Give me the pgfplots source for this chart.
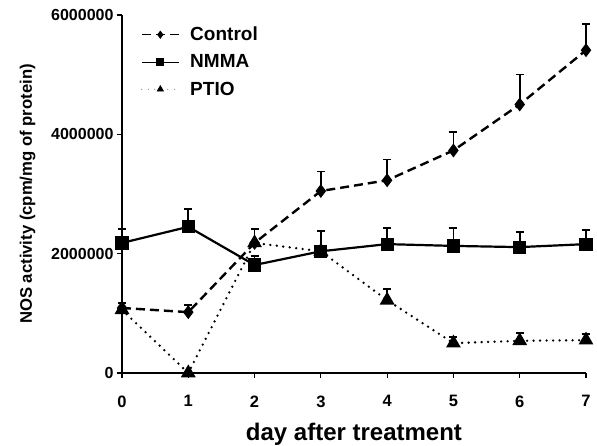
\documentclass[border=0pt]{standalone}
\usepackage{fontspec}
\setmainfont{Liberation Sans}
\usepackage{pgfplots}
\pgfplotsset{compat=1.18}
\usepackage{pgfplotstable}

\pgfplotstableread{
x y e
0 1090000 80000
1 1020000 120000
2 2180000 230000
3 3050000 330000
4 3230000 350000
5 3730000 310000
6 4500000 500000
7 5410000 440000
}\control
\pgfplotstableread{
x y e
0 2180000 230000
1 2450000 300000
2 1810000 150000
3 2040000 340000
4 2160000 270000
5 2130000 300000
6 2110000 250000
7 2160000 240000
}\nmma
\pgfplotstableread{
x y e
0 1060000 0
1 0 0
2 2180000 0
3 2040000 0
4 1220000 190000
5 500000 100000
6 540000 130000
7 550000 100000
}\ptio

\begin{document}
\begin{tikzpicture}
\begin{axis}[
  scale only axis,
  width=464pt, height=358pt,
  xmin=0, xmax=7, ymin=0, ymax=6000000,
  axis lines=left,
  axis line style={line width=1.6pt, -},
  clip=false,
  xtick={0,...,7},
  ytick={0,2000000,4000000,6000000},
  scaled ticks=false,
  yticklabel style={/pgf/number format/fixed, /pgf/number format/1000 sep={}, font=\fontsize{16}{18}\selectfont\bfseries},
  xticklabel style={font=\fontsize{16.5}{18}\selectfont\bfseries, yshift=-14pt},
  /pgf/number format/assume math mode=true,
  tick align=outside,
  major tick length=5pt,
  tick style={line width=1.2pt, black},
  xlabel={day after treatment},
  ylabel={NOS activity (cpm/mg of protein)},
  xlabel style={font=\fontsize{24}{26}\selectfont\bfseries, yshift=-9pt},
  ylabel style={font=\fontsize{16.7}{18}\selectfont\bfseries, yshift=9pt},
  legend style={at={(0.035,0.978)}, anchor=north west, draw=none, fill=none,
     font=\fontsize{19}{21}\selectfont\bfseries, row sep=8.5pt,
     /tikz/every odd column/.append style={column sep=9pt}},
  legend cell align=left,
  legend image code/.code={%
     \draw[mark repeat=2, mark phase=2, line width=0.8pt, #1, mark size=3.5pt]
        plot coordinates {(0pt,0pt) (18.5pt,0pt) (37pt,0pt)};},
  error bars/y dir=plus, error bars/y explicit,
  error bars/error bar style={line width=1.6pt, solid, black},
  error bars/error mark options={rotate=90, mark size=4pt, line width=1.6pt, solid, black},
]
\addplot[black, line width=2.4pt, dash pattern=on 9pt off 5pt, mark=diamond*, mark size=5pt,
  mark options={solid}] table[x=x, y=y, y error=e] {\control};
\addlegendentry{Control}
\addplot[black, line width=2.2pt, mark=square*, mark size=5.5pt,
  mark options={solid}] table[x=x, y=y, y error=e] {\nmma};
\addlegendentry{NMMA}
\addplot[black, line width=2.6pt, dash pattern=on 0pt off 6.5pt, line cap=round, mark=triangle*, mark size=6pt,
  mark options={solid}] table[x=x, y=y, y error=e] {\ptio};
\addlegendentry{PTIO}
\end{axis}
\pgfresetboundingbox
\path (current axis.south west) ++(-122pt,-72pt) coordinate (bl);
\path (current axis.north east) ++(11pt,15pt) coordinate (tr);
\path (bl) rectangle (tr);
\end{tikzpicture}
\end{document}
